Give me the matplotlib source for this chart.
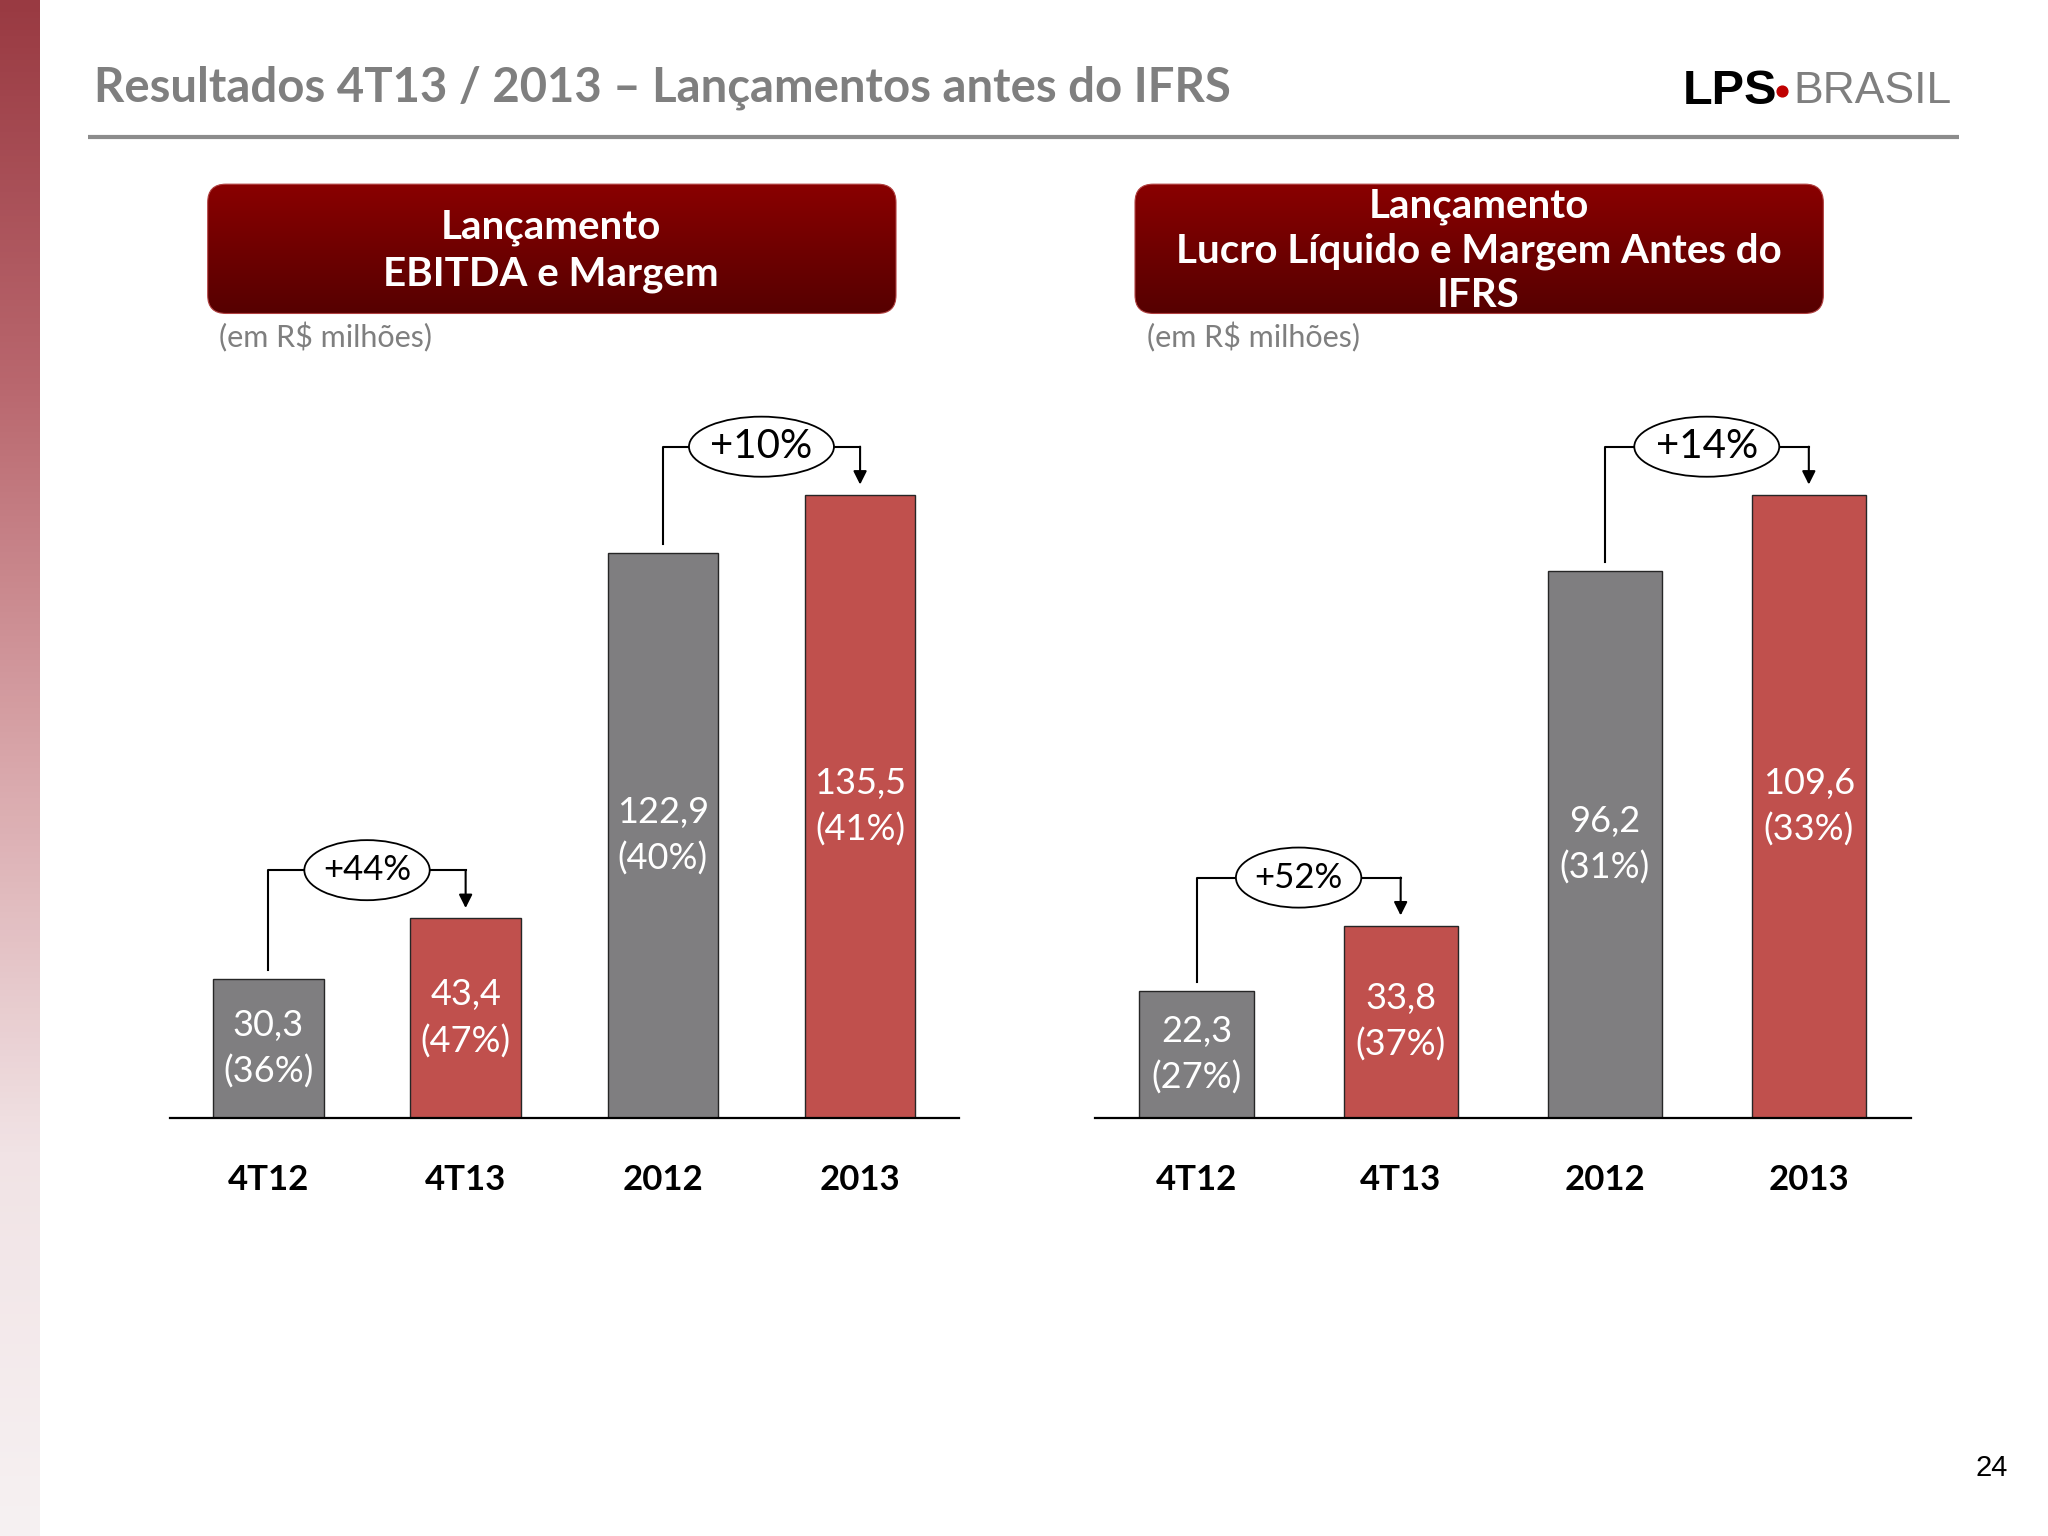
import numpy as np
import matplotlib
matplotlib.use("Agg")
import matplotlib.pyplot as plt
from matplotlib.patches import FancyBboxPatch, Ellipse
from matplotlib.colors import LinearSegmentedColormap

# data
categories = ["4T12", "4T13", "2012", "2013"]
ebitda = [30.3, 43.4, 122.9, 135.5]
ebitda_margin = [36, 47, 40, 41]
ebitda_growth = ["+44%", "+10%"]
lucro = [22.3, 33.8, 96.2, 109.6]
lucro_margin = [27, 37, 31, 33]
lucro_growth = ["+52%", "+14%"]
growth_pairs = [(0, 1), (2, 3)]

GRAY = "#7f7e80"
RED = "#c0504d"
bar_colors = [GRAY, RED, GRAY, RED]

# layout is worked out in reference units (1568 x 1176)
W, H = 1568.0, 1176.0
LABEL_FONT = ["Lato", "DejaVu Sans"]

fig = plt.figure(figsize=(20.48, 15.36), dpi=100, facecolor="white")

ov = fig.add_axes([0, 0, 1, 1])
ov.set_xlim(0, W)
ov.set_ylim(H, 0)
ov.axis("off")

# left strip gradient
strip = LinearSegmentedColormap.from_list(
    "strip", ["#993a42", "#b9676e", "#d9a7ab", "#f1e3e5", "#f6f1f2"])
grad = np.linspace(0, 1, 256).reshape(-1, 1)
ov.imshow(grad, cmap=strip, extent=[0, 30, H, 0], aspect="auto", zorder=0)

# header
ov.text(72, 67, "Resultados 4T13 / 2013 \u2013 Lançamentos antes do IFRS",
        fontsize=34, fontweight="bold", color="#7f7f7f", ha="left",
        va="center", family=LABEL_FONT)
ov.plot([67, 1500], [105, 105], color="#8c8c8c", lw=3, solid_capstyle="butt")

logo = ["Liberation Sans Narrow", "Liberation Sans"]
ov.text(1288, 70, "LPS", fontsize=35, fontweight="bold", color="black",
        ha="left", va="center", family=logo)
ov.scatter([1364], [70], s=60, color="#c00000", zorder=3)
ov.text(1373, 70, "BRASIL", fontsize=32, color="#7f7f7f",
        ha="left", va="center", family=logo)

# red header boxes
box_cmap = LinearSegmentedColormap.from_list("box", ["#8a0000", "#560000"])
box_titles = ["Lançamento\nEBITDA e Margem",
              "Lançamento\nLucro Líquido e Margem Antes do\nIFRS"]
for x0, title in zip([159, 869], box_titles):
    patch = FancyBboxPatch((x0, 141), 527, 99,
                           boxstyle="round,pad=0,rounding_size=14",
                           fc="none", ec="#b04040", lw=0.8, zorder=2)
    ov.add_patch(patch)
    img = ov.imshow(grad, cmap=box_cmap, extent=[x0, x0 + 527, 240, 141],
                    aspect="auto", zorder=1)
    img.set_clip_path(patch)
    nlines = title.count("\n") + 1
    ov.text(x0 + 263, 192, title, fontsize=29, fontweight="bold",
            color="white", ha="center", va="center",
            linespacing=1.3 if nlines == 2 else 1.25, family=LABEL_FONT,
            zorder=3)
    ov.text(x0 + 9, 258, "(em R$ milhões)", fontsize=22, color="#7f7f7f",
            ha="left", va="center", family=LABEL_FONT)

ov.text(1525, 1124, "24", fontsize=21, color="black", ha="center",
        va="center", family=["Liberation Sans", "DejaVu Sans"])


def fmt(v):
    return f"{v:.1f}".replace(".", ",")


def draw_chart(x_left, x_right, values, margins, growth):
    top_px, base_px = 300.0, 856.0
    ax = fig.add_axes([x_left / W, 1 - base_px / H,
                       (x_right - x_left) / W, (base_px - top_px) / H])
    ax.patch.set_alpha(0)
    vmax = max(values)
    ax.set_ylim(0, vmax * (base_px - top_px) / (base_px - 379.0))
    ax.set_xlim(-0.5, len(values) - 0.5)
    px_x = (x_right - x_left) / len(values)   # ref px per x unit
    px_y = (base_px - 379.0) / vmax           # ref px per value unit

    x = np.arange(len(values))
    ax.bar(x, values, width=0.56, color=bar_colors, edgecolor="#262626",
           linewidth=1.0, zorder=2)
    for xi, v, m in zip(x, values, margins):
        ax.text(xi, v / 2, f"{fmt(v)}\n({m}%)", ha="center", va="center",
                color="white", fontsize=26, linespacing=1.45,
                family=LABEL_FONT, zorder=3)

    for sp in ["top", "left", "right"]:
        ax.spines[sp].set_visible(False)
    ax.spines["bottom"].set_linewidth(1.6)
    ax.set_yticks([])
    ax.set_xticks(x)
    ax.set_xticklabels(categories, fontsize=25, fontweight="bold",
                       family=LABEL_FONT)
    ax.tick_params(axis="x", length=0, pad=33)

    for (i, j), lab, fs, ew in zip(growth_pairs, growth, [25, 29], [96, 111]):
        level = max(values[i], values[j]) + 37 / px_y
        ax.plot([i, i, j], [values[i] + 7 / px_y, level, level],
                color="black", lw=1.5, zorder=4, clip_on=False)
        ax.annotate("", xy=(j, values[j] + 8 / px_y), xytext=(j, level),
                    arrowprops=dict(arrowstyle="-|>", color="black", lw=1.5,
                                    mutation_scale=20, shrinkA=0, shrinkB=0),
                    zorder=4, annotation_clip=False)
        ax.add_patch(Ellipse(((i + j) / 2, level), ew / px_x, 46 / px_y,
                             fc="white", ec="black", lw=1.3, zorder=5,
                             clip_on=False))
        ax.text((i + j) / 2, level, lab, ha="center", va="center",
                fontsize=fs, family=LABEL_FONT, zorder=6)
    return ax


draw_chart(130, 734, ebitda, ebitda_margin, ebitda_growth)
draw_chart(838, 1463, lucro, lucro_margin, lucro_growth)

fig.savefig("out.png", dpi=100, facecolor="white")
